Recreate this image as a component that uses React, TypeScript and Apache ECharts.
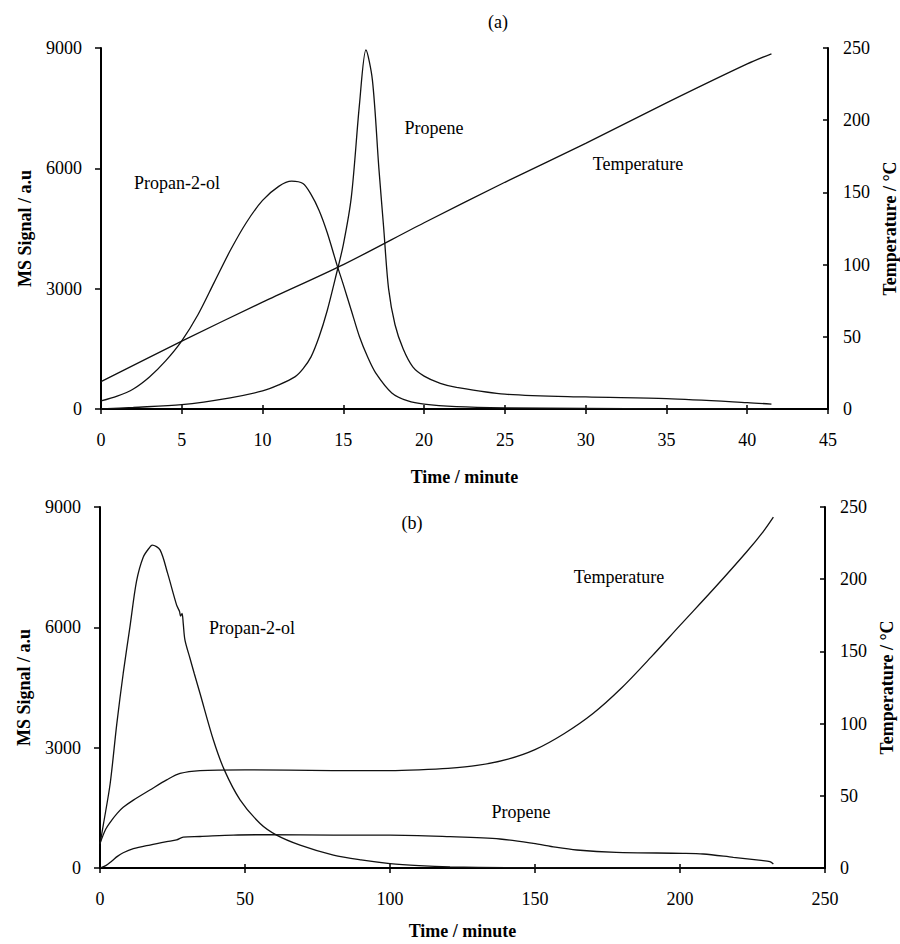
import React, { useEffect, useRef } from "react";
import * as echarts from "echarts";

// ---------- Panel (a) ----------
const timeA_propanol = [0, 1, 2, 3, 4, 5, 6, 7, 8, 9, 10, 11, 11.8, 12.5, 13, 13.5, 14, 14.6, 15, 15.5, 16, 16.5, 17, 18, 19, 20, 22, 25, 30, 35, 41.5];
const propanolA = [200, 320, 500, 800, 1200, 1700, 2350, 3150, 3950, 4650, 5200, 5550, 5680, 5620, 5350, 4950, 4400, 3600, 3100, 2450, 1800, 1300, 900, 400, 200, 120, 60, 30, 15, 5, 0];

const timeA_propene = [0, 2, 5, 8, 10, 11, 12, 12.5, 13, 13.5, 14, 14.5, 15, 15.5, 16, 16.4, 16.8, 17.2, 17.5, 17.8, 18.2, 18.7, 19.3, 20, 21, 22, 25, 30, 35, 40, 41.5];
const propeneA = [0, 40, 110, 280, 450, 600, 800, 1000, 1300, 1800, 2450, 3250, 4100, 5300, 7600, 8950, 8200, 6000, 4500, 3000, 2100, 1500, 1050, 820, 640, 540, 370, 300, 260, 160, 120];

const timeA_temp = [0, 5, 10, 15, 20, 25, 30, 35, 40, 41.5];
const tempA = [19, 47, 74, 100, 129, 157, 184, 212, 239, 246];

// ---------- Panel (b) ----------
const timeB_propanol = [0, 1.2, 3.5, 5.8, 8, 10.3, 12.6, 14.9, 17.2, 18, 20.7, 23.3, 26.4, 27.4, 27.8, 28.3, 28.7, 29.3, 31, 32.5, 34.5, 39.1, 42.9, 48.3, 55.2, 60.9, 69, 80.5, 90, 100, 110, 120.7, 140, 160, 180, 200, 232];
const propanolB = [600, 1100, 2100, 3600, 4850, 6000, 7150, 7750, 8000, 8050, 7930, 7350, 6560, 6400, 6280, 6350, 6100, 5680, 5235, 4850, 4350, 3190, 2440, 1700, 1110, 820, 570, 320, 200, 110, 60, 30, 10, 5, 0, 0, 0];

const timeB_propene = [0, 2, 4, 6, 8, 11.5, 17.2, 23, 26.4, 28.7, 34.5, 46, 57.5, 80.5, 100, 120.7, 137.9, 149.4, 157, 164.4, 178, 201, 208, 218.4, 228, 231, 232.2];
const propeneB = [0, 60, 170, 290, 380, 480, 573, 656, 700, 770, 785, 822, 830, 822, 822, 781, 723, 615, 520, 449, 391, 366, 349, 266, 190, 158, 100];

const timeB_temp = [0, 2, 4, 6, 8, 11.5, 17.2, 23, 27.6, 34.5, 50, 80, 100, 110, 120, 130, 140, 150, 160, 170, 180, 190, 200, 211.5, 223, 228.7, 232.2];
const tempB = [17, 27, 33, 38, 42, 47, 54, 61, 65.5, 67.5, 68, 67.5, 67.5, 68, 69, 71, 75, 82, 93, 107, 125, 146, 168, 193, 219, 233, 243];

// axis ranges / ticks
const msTicks = { min: 0, max: 9000, interval: 3000 };
const tempTicks = { min: 0, max: 250, interval: 50 };
const timeTicksA = { min: 0, max: 45, interval: 5 };
const timeTicksB = { min: 0, max: 250, interval: 50 };

const pair = (xs: number[], ys: number[]) => xs.map((x, i) => [x, ys[i]]);

const FONT = "Liberation Serif";
const INK = "#000";

export default function App() {
  const ref = useRef<HTMLDivElement>(null);

  useEffect(() => {
    if (!ref.current) return;
    const chart = echarts.init(ref.current, undefined, { renderer: "svg" });

    const axisLine = { show: true, onZero: false, lineStyle: { color: INK, width: 2 } };
    const tickLine = { color: INK, width: 1.5 };
    const labelStyle = {
      color: INK,
      fontFamily: FONT,
      fontSize: 18,
      formatter: (v: number) => String(v),
    };
    const nameStyle = { color: INK, fontFamily: FONT, fontSize: 18, fontWeight: "bold" as const };

    const xMain = (gridIndex: number, t: any, nameGap: number) => ({
      type: "value",
      gridIndex,
      position: "bottom",
      ...t,
      name: "Time / minute",
      nameLocation: "middle",
      nameGap,
      nameTextStyle: nameStyle,
      axisLine,
      axisTick: { show: true, inside: false, length: 5, lineStyle: tickLine },
      axisLabel: { ...labelStyle, margin: 22 },
      splitLine: { show: false },
    });
    const xOverlay = (gridIndex: number, t: any) => ({
      type: "value",
      gridIndex,
      position: "bottom",
      ...t,
      axisLine: { show: false, onZero: false },
      axisTick: { show: true, inside: true, length: 4, lineStyle: tickLine },
      axisLabel: { show: false },
      splitLine: { show: false },
    });
    const yLeft = (gridIndex: number) => ({
      type: "value",
      gridIndex,
      position: "left",
      ...msTicks,
      name: "MS Signal / a.u",
      nameLocation: "middle",
      nameRotate: 90,
      nameGap: 67,
      nameTextStyle: nameStyle,
      axisLine,
      axisTick: { show: true, inside: false, length: 6, lineStyle: tickLine },
      axisLabel: { ...labelStyle, margin: 19 },
      splitLine: { show: false },
    });
    const yRight = (gridIndex: number, nameGap: number) => ({
      type: "value",
      gridIndex,
      position: "right",
      ...tempTicks,
      name: "Temperature / °C",
      nameLocation: "middle",
      nameRotate: 90,
      nameGap,
      nameTextStyle: nameStyle,
      axisLine,
      axisTick: { show: true, inside: true, length: 5, lineStyle: tickLine },
      axisLabel: { ...labelStyle, margin: 15 },
      splitLine: { show: false },
    });

    const line = (name: string, xAxisIndex: number, yAxisIndex: number, data: number[][]) => ({
      name,
      type: "line",
      xAxisIndex,
      yAxisIndex,
      data,
      showSymbol: false,
      symbol: "none",
      smooth: 0.3,
      lineStyle: { color: "#111", width: 1.3 },
      silent: true,
    });

    const label = (text: string, x: number, y: number) => ({
      type: "text",
      x,
      y,
      silent: true,
      style: {
        text,
        fill: INK,
        fontFamily: FONT,
        fontSize: 18,
        font: `18px "${FONT}"`,
        align: "center",
        verticalAlign: "middle",
        textAlign: "center",
        textVerticalAlign: "middle",
      },
    });

    chart.setOption({
      animation: false,
      backgroundColor: "#fff",
      grid: [
        { left: 101, top: 48, width: 727, height: 361, outerBoundsMode: "none", containLabel: false },
        { left: 100, top: 507, width: 725, height: 361, outerBoundsMode: "none", containLabel: false },
      ],
      xAxis: [
        xMain(0, timeTicksA, 59),
        xMain(1, timeTicksB, 54),
        xOverlay(0, timeTicksA),
        xOverlay(1, timeTicksB),
      ],
      yAxis: [yLeft(0), yRight(0, 52), yLeft(1), yRight(1, 51)],
      series: [
        line("Propan-2-ol (a)", 0, 0, pair(timeA_propanol, propanolA)),
        line("Propene (a)", 0, 0, pair(timeA_propene, propeneA)),
        line("Temperature (a)", 0, 1, pair(timeA_temp, tempA)),
        line("Propan-2-ol (b)", 1, 2, pair(timeB_propanol, propanolB)),
        line("Propene (b)", 1, 2, pair(timeB_propene, propeneB)),
        line("Temperature (b)", 1, 3, pair(timeB_temp, tempB)),
      ],
      graphic: [
        label("(a)", 498, 22),
        label("Propan-2-ol", 177, 183),
        label("Propene", 434, 128),
        label("Temperature", 638, 164),
        label("(b)", 412, 523),
        label("Propan-2-ol", 252, 628),
        label("Temperature", 619, 577),
        label("Propene", 521, 812),
      ],
    });

    return () => chart.dispose();
  }, []);

  return (
    <div
      ref={ref}
      style={{ position: "fixed", left: 0, top: 0, width: 900, height: 944, background: "#fff" }}
    />
  );
}
